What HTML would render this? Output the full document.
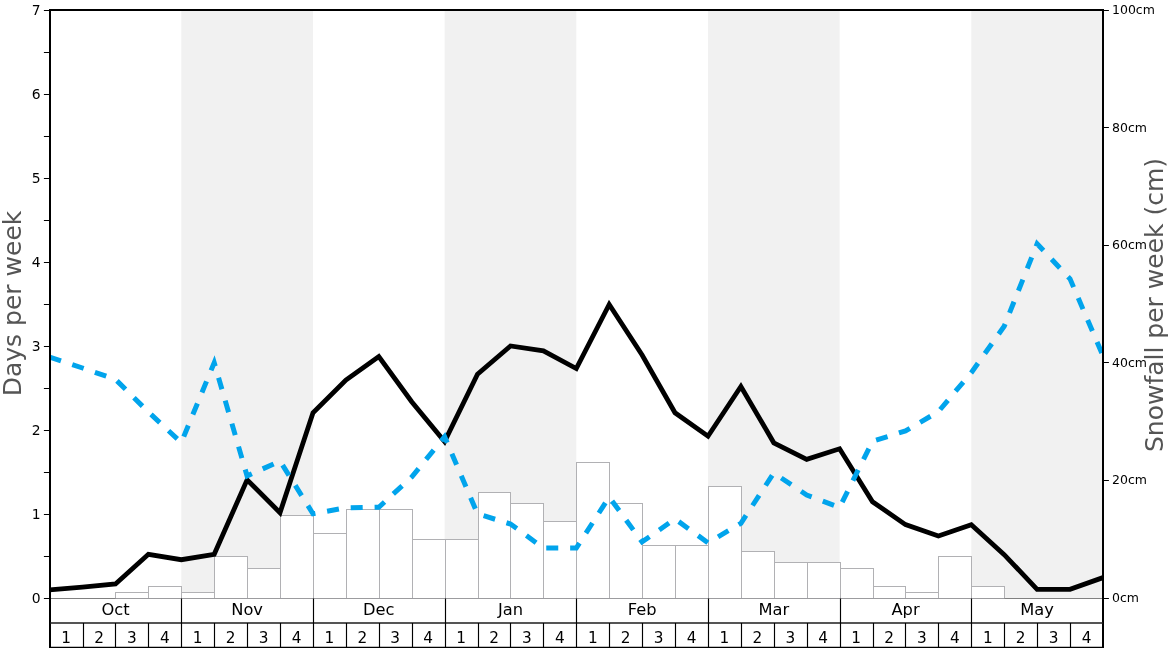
<!DOCTYPE html>
<html><head><meta charset="utf-8"><title>Snow history</title>
<style>
html,body{margin:0;padding:0;background:#fff}
svg{display:block}
text{font-family:"DejaVu Sans","Liberation Sans",sans-serif;fill:#000}
.tl{font-size:13.9px;text-anchor:end}
.tr{font-size:12.5px}
.m{font-size:15.3px;text-anchor:middle}
.ax{font-size:25px;fill:#555;text-anchor:middle}
</style></head><body>
<svg width="1168" height="648" viewBox="0 0 1168 648">
<rect width="1168" height="648" fill="#fff"/>
<clipPath id="c"><rect x="49.6" y="10.6" width="1053.3" height="588.0"/></clipPath>
<g fill="#f1f1f1">
<rect x="181.29" y="10.6" width="131.67" height="588.0"/>
<rect x="444.62" y="10.6" width="131.67" height="588.0"/>
<rect x="707.96" y="10.6" width="131.67" height="588.0"/>
<rect x="971.30" y="10.6" width="131.67" height="588.0"/>
</g>
<g fill="#fff" stroke="#b1b1b4" stroke-width="1">
<rect x="115.5" y="592.5" width="33.0" height="6.0"/>
<rect x="148.5" y="586.5" width="33.0" height="12.0"/>
<rect x="181.5" y="592.5" width="33.0" height="6.0"/>
<rect x="214.5" y="556.5" width="33.0" height="42.0"/>
<rect x="247.5" y="568.5" width="33.0" height="30.0"/>
<rect x="280.5" y="515.5" width="33.0" height="83.0"/>
<rect x="313.5" y="533.5" width="33.0" height="65.0"/>
<rect x="346.5" y="509.5" width="33.0" height="89.0"/>
<rect x="379.5" y="509.5" width="33.0" height="89.0"/>
<rect x="412.5" y="539.5" width="33.0" height="59.0"/>
<rect x="445.5" y="539.5" width="33.0" height="59.0"/>
<rect x="478.5" y="492.5" width="32.0" height="106.0"/>
<rect x="510.5" y="503.5" width="33.0" height="95.0"/>
<rect x="543.5" y="521.5" width="33.0" height="77.0"/>
<rect x="576.5" y="462.5" width="33.0" height="136.0"/>
<rect x="609.5" y="503.5" width="33.0" height="95.0"/>
<rect x="642.5" y="545.5" width="33.0" height="53.0"/>
<rect x="675.5" y="545.5" width="33.0" height="53.0"/>
<rect x="708.5" y="486.5" width="33.0" height="112.0"/>
<rect x="741.5" y="551.5" width="33.0" height="47.0"/>
<rect x="774.5" y="562.5" width="33.0" height="36.0"/>
<rect x="807.5" y="562.5" width="33.0" height="36.0"/>
<rect x="840.5" y="568.5" width="33.0" height="30.0"/>
<rect x="873.5" y="586.5" width="32.0" height="12.0"/>
<rect x="905.5" y="592.5" width="33.0" height="6.0"/>
<rect x="938.5" y="556.5" width="33.0" height="42.0"/>
<rect x="971.5" y="586.5" width="33.0" height="12.0"/>
</g>
<path d="M50 598.5H1103" stroke="#9c9c9f" stroke-width="1"/>
<path d="M50 598.5H115.5M1004.5 598.5H1103" stroke="#808080" stroke-width="1"/>
<g clip-path="url(#c)" fill="none" stroke-linejoin="miter">
<polyline stroke="#000" stroke-width="4.8" points="49.6,589.8 82.5,587.2 115.5,584.0 148.4,554.3 181.3,559.7 214.2,554.3 247.1,479.8 280.0,512.7 313.0,412.8 345.9,380.0 378.8,356.6 411.7,401.7 444.6,441.6 477.5,374.3 510.5,346.0 543.4,350.9 576.3,368.6 609.2,304.5 642.1,355.0 675.0,412.8 708.0,436.2 740.9,386.5 773.8,442.8 806.7,459.3 839.6,448.8 872.5,501.7 905.5,524.6 938.4,536.0 971.3,524.8 1004.2,554.6 1037.1,589.3 1070.0,589.3 1103.0,577.6"/>
<polyline stroke="#01a4ec" stroke-width="5" stroke-dasharray="12 11.9" points="49.6,357.0 82.5,368.0 115.5,379.4 148.4,412.0 181.3,442.6 214.2,362.7 247.1,476.0 280.0,461.0 313.0,513.8 345.9,507.8 378.8,507.3 411.7,477.0 444.6,436.7 477.5,513.8 510.5,524.0 543.4,548.0 576.3,548.0 609.2,497.0 642.1,541.9 675.0,518.9 708.0,542.8 740.9,523.3 773.8,473.0 806.7,495.0 839.6,507.4 872.5,441.3 905.5,430.9 938.4,411.6 971.3,372.6 1004.2,326.3 1037.1,243.8 1070.0,278.8 1103.0,355.9"/>
</g>
<g stroke="#000" fill="none">
<path stroke-width="2" d="M50 648V10H1103V648"/>
<path stroke-width="1.7" stroke="#1c1c1c" d="M50 623H1103"/><path stroke-width="1.6" d="M49 647.6H1104"/>
<path stroke-width="1.15" d="M83.5 623.0V647M115.5 623.0V647M148.5 623.0V647M181.5 598.5V647M214.5 623.0V647M247.5 623.0V647M280.5 623.0V647M313.5 598.5V647M346.5 623.0V647M379.5 623.0V647M412.5 623.0V647M445.5 598.5V647M478.5 623.0V647M510.5 623.0V647M543.5 623.0V647M576.5 598.5V647M609.5 623.0V647M642.5 623.0V647M675.5 623.0V647M708.5 598.5V647M741.5 623.0V647M774.5 623.0V647M807.5 623.0V647M840.5 598.5V647M873.5 623.0V647M905.5 623.0V647M938.5 623.0V647M971.5 598.5V647M1004.5 623.0V647M1037.5 623.0V647M1070.5 623.0V647"/>
<path stroke-width="1.2" d="M43.9 598.5H49.2M43.9 556.5H49.2M43.9 514.5H49.2M43.9 472.5H49.2M43.9 430.5H49.2M43.9 388.5H49.2M43.9 346.5H49.2M43.9 304.5H49.2M43.9 262.5H49.2M43.9 220.5H49.2M43.9 178.5H49.2M43.9 136.5H49.2M43.9 94.5H49.2M43.9 52.5H49.2M43.9 10.5H49.2M1103.8 598.5H1108.9M1103.8 480.5H1108.9M1103.8 362.5H1108.9M1103.8 245.5H1108.9M1103.8 127.5H1108.9M1103.8 10.5H1108.9"/>
</g>
<text class="tl" x="40.6" y="603.4">0</text>
<text class="tl" x="40.6" y="519.4">1</text>
<text class="tl" x="40.6" y="435.4">2</text>
<text class="tl" x="40.6" y="351.4">3</text>
<text class="tl" x="40.6" y="267.4">4</text>
<text class="tl" x="40.6" y="183.4">5</text>
<text class="tl" x="40.6" y="99.4">6</text>
<text class="tl" x="40.6" y="15.4">7</text>
<text class="tr" x="1112" y="602.0">0cm</text>
<text class="tr" x="1112" y="484.4">20cm</text>
<text class="tr" x="1112" y="366.8">40cm</text>
<text class="tr" x="1112" y="249.2">60cm</text>
<text class="tr" x="1112" y="131.6">80cm</text>
<text class="tr" x="1112" y="14.0">100cm</text>
<text class="m" transform="translate(115.5 614.6) scale(1.065 1)">Oct</text>
<text class="m" transform="translate(247.1 614.6) scale(1.065 1)">Nov</text>
<text class="m" transform="translate(378.8 614.6) scale(1.065 1)">Dec</text>
<text class="m" transform="translate(510.5 614.6) scale(1.065 1)">Jan</text>
<text class="m" transform="translate(642.1 614.6) scale(1.065 1)">Feb</text>
<text class="m" transform="translate(773.8 614.6) scale(1.065 1)">Mar</text>
<text class="m" transform="translate(905.5 614.6) scale(1.065 1)">Apr</text>
<text class="m" transform="translate(1037.1 614.6) scale(1.065 1)">May</text>
<text class="m" x="66.1" y="642.6">1</text>
<text class="m" x="99.0" y="642.6">2</text>
<text class="m" x="131.9" y="642.6">3</text>
<text class="m" x="164.8" y="642.6">4</text>
<text class="m" x="197.7" y="642.6">1</text>
<text class="m" x="230.7" y="642.6">2</text>
<text class="m" x="263.6" y="642.6">3</text>
<text class="m" x="296.5" y="642.6">4</text>
<text class="m" x="329.4" y="642.6">1</text>
<text class="m" x="362.3" y="642.6">2</text>
<text class="m" x="395.2" y="642.6">3</text>
<text class="m" x="428.2" y="642.6">4</text>
<text class="m" x="461.1" y="642.6">1</text>
<text class="m" x="494.0" y="642.6">2</text>
<text class="m" x="526.9" y="642.6">3</text>
<text class="m" x="559.8" y="642.6">4</text>
<text class="m" x="592.8" y="642.6">1</text>
<text class="m" x="625.7" y="642.6">2</text>
<text class="m" x="658.6" y="642.6">3</text>
<text class="m" x="691.5" y="642.6">4</text>
<text class="m" x="724.4" y="642.6">1</text>
<text class="m" x="757.3" y="642.6">2</text>
<text class="m" x="790.3" y="642.6">3</text>
<text class="m" x="823.2" y="642.6">4</text>
<text class="m" x="856.1" y="642.6">1</text>
<text class="m" x="889.0" y="642.6">2</text>
<text class="m" x="921.9" y="642.6">3</text>
<text class="m" x="954.8" y="642.6">4</text>
<text class="m" x="987.8" y="642.6">1</text>
<text class="m" x="1020.7" y="642.6">2</text>
<text class="m" x="1053.6" y="642.6">3</text>
<text class="m" x="1086.5" y="642.6">4</text>
<text class="ax" transform="translate(20.5 303.5) rotate(-90)">Days per week</text>
<text class="ax" transform="translate(1163.2 305) rotate(-90)">Snowfall per week (cm)</text>
</svg></body></html>
